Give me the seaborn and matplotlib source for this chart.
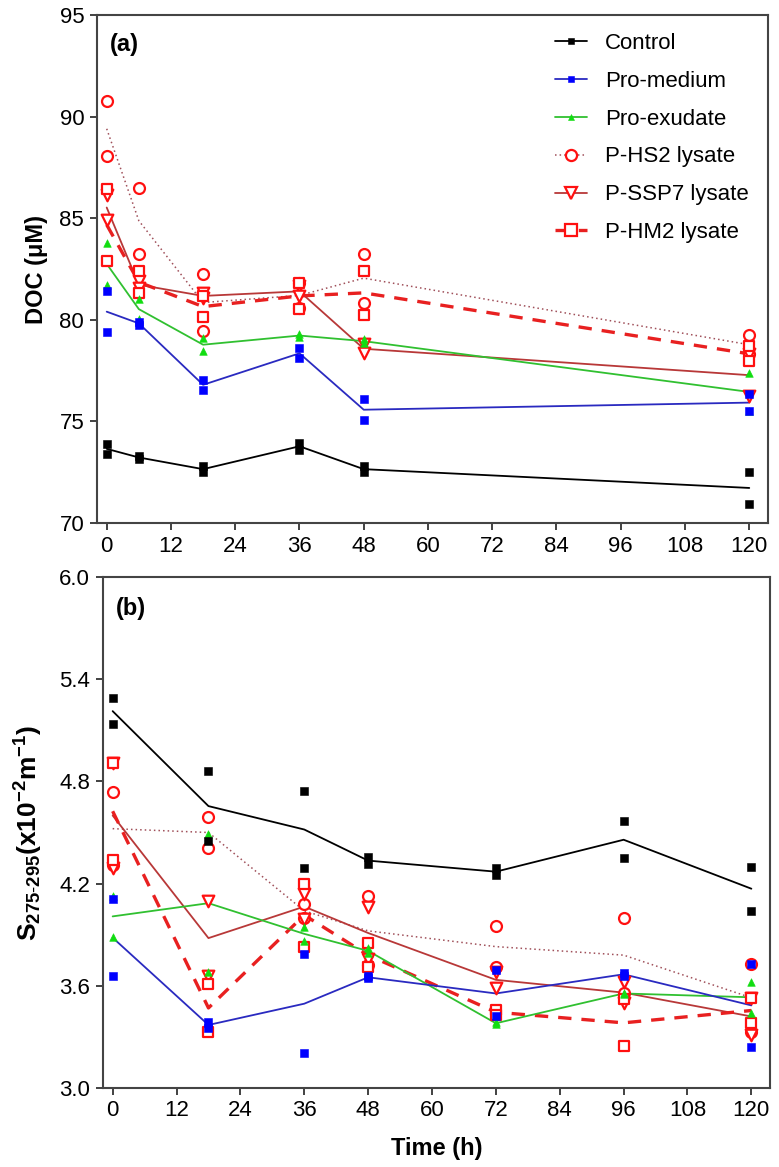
import pandas as pd
import matplotlib
matplotlib.use("Agg")
import matplotlib.pyplot as plt
from matplotlib.lines import Line2D
from matplotlib.ticker import FormatStrFormatter
import seaborn as sns

# Panel (a): DOC, two replicates per treatment
doc_time = [0, 6, 18, 36, 48, 120]
doc_control_r1 = [73.9, 73.3, 72.8, 73.95, 72.8, 72.5]
doc_control_r2 = [73.4, 73.15, 72.5, 73.6, 72.5, 70.95]
doc_promed_r1 = [81.4, 79.9, 77.05, 78.6, 76.1, 76.35]
doc_promed_r2 = [79.4, 79.75, 76.55, 78.1, 75.05, 75.5]
doc_proexu_r1 = [83.8, 81.0, 79.1, 79.3, 79.05, 77.4]
doc_proexu_r2 = [81.7, 80.05, 78.45, 79.15, 78.85, 75.5]
doc_hs2_r1 = [90.75, 86.5, 82.25, 81.8, 83.25, 79.25]
doc_hs2_r2 = [88.05, 83.25, 79.45, 80.6, 80.85, 78.3]
doc_ssp7_r1 = [86.15, 81.9, 81.3, 81.65, 78.8, 78.3]
doc_ssp7_r2 = [84.9, 81.55, 81.05, 81.15, 78.35, 76.25]
doc_hm2_r1 = [86.45, 82.4, 81.15, 81.8, 82.4, 78.7]
doc_hm2_r2 = [82.9, 81.3, 80.15, 80.55, 80.25, 77.95]

# Panel (b): spectral slope S275-295
s_time = [0, 18, 36, 48, 72, 96, 120]
s_control_r1 = [5.29, 4.86, 4.745, 4.355, 4.29, 4.565, 4.30]
s_control_r2 = [5.135, 4.45, 4.29, 4.315, 4.25, 4.35, 4.04]
s_promed_r1 = [4.11, 3.39, 3.785, 3.655, 3.69, 3.675, 3.73]
s_promed_r2 = [3.655, 3.35, 3.205, 3.645, 3.42, 3.66, 3.24]
s_proexu_r1 = [4.13, 4.49, 3.945, 3.82, 3.385, 3.56, 3.625]
s_proexu_r2 = [3.885, 3.68, 3.865, 3.79, 3.375, 3.55, 3.44]
s_hs2_r1 = [4.735, 4.59, 4.08, 4.125, 3.95, 4.0, 3.73]
s_hs2_r2 = [4.31, 4.41, 4.0, 3.72, 3.71, 3.56, 3.33]
s_ssp7_r1 = [4.91, 4.10, 4.14, 4.06, 3.68, 3.62, 3.53]
s_ssp7_r2 = [4.29, 3.66, 3.99, 3.76, 3.59, 3.50, 3.31]
s_hm2_r1 = [4.91, 3.61, 4.20, 3.85, 3.46, 3.52, 3.53]
s_hm2_r2 = [4.34, 3.33, 3.83, 3.71, 3.43, 3.245, 3.38]

treatments = ["Control", "Pro-medium", "Pro-exudate",
              "P-HS2 lysate", "P-SSP7 lysate", "P-HM2 lysate"]
time_ticks = [0, 12, 24, 36, 48, 60, 72, 84, 96, 108, 120]

# line color, line style, line width, marker, face, edge, marker size (scatter s)
styles = {
    "Control": ("black", "-", 1.3, "s", "black", "black", 30),
    "Pro-medium": ("#2a2ac0", "-", 1.3, "s", "#0000ff", "#0000ff", 26),
    "Pro-exudate": ("#30c030", "-", 1.3, "^", "#11dd11", "#11dd11", 30),
    "P-HS2 lysate": ("#a0505a", (0, (1, 2)), 1.1, "o", "white", "#ff1010", 62),
    "P-SSP7 lysate": ("#b83838", "-", 1.3, "v", "white", "#ff1010", 70),
    "P-HM2 lysate": ("#e82020", (0, (4, 3)), 2.4, "s", "white", "#ff1010", 62),
}
draw_order = ["P-HS2 lysate", "P-SSP7 lysate", "P-HM2 lysate",
              "Pro-exudate", "Pro-medium", "Control"]


def long_df(time, reps):
    rows = []
    for name, (r1, r2) in reps.items():
        for t, a, b in zip(time, r1, r2):
            rows.append((name, t, a))
            rows.append((name, t, b))
    return pd.DataFrame(rows, columns=["treatment", "time", "value"])


doc_df = long_df(doc_time, {
    "Control": (doc_control_r1, doc_control_r2),
    "Pro-medium": (doc_promed_r1, doc_promed_r2),
    "Pro-exudate": (doc_proexu_r1, doc_proexu_r2),
    "P-HS2 lysate": (doc_hs2_r1, doc_hs2_r2),
    "P-SSP7 lysate": (doc_ssp7_r1, doc_ssp7_r2),
    "P-HM2 lysate": (doc_hm2_r1, doc_hm2_r2),
})
s_df = long_df(s_time, {
    "Control": (s_control_r1, s_control_r2),
    "Pro-medium": (s_promed_r1, s_promed_r2),
    "Pro-exudate": (s_proexu_r1, s_proexu_r2),
    "P-HS2 lysate": (s_hs2_r1, s_hs2_r2),
    "P-SSP7 lysate": (s_ssp7_r1, s_ssp7_r2),
    "P-HM2 lysate": (s_hm2_r1, s_hm2_r2),
})

sns.set_theme(style="ticks")
plt.rcParams["font.family"] = ["Liberation Sans", "DejaVu Sans"]
plt.rcParams["mathtext.fontset"] = "custom"
plt.rcParams["mathtext.rm"] = "Liberation Sans"
plt.rcParams["mathtext.bf"] = "Liberation Sans:bold"
plt.rcParams["mathtext.it"] = "Liberation Sans:italic"
plt.rcParams["text.color"] = "black"
plt.rcParams["axes.labelcolor"] = "black"
plt.rcParams["xtick.labelcolor"] = "black"
plt.rcParams["ytick.labelcolor"] = "black"


def draw_panel(ax, df):
    for i, name in enumerate(draw_order):
        lc, ls, lw, m, face, edge, size = styles[name]
        sub = df[df["treatment"] == name]
        sns.lineplot(data=sub, x="time", y="value", estimator="mean", errorbar=None,
                     color=lc, linestyle=ls, linewidth=lw, ax=ax, legend=False, zorder=2)
        open_marker = face == "white"
        sns.scatterplot(data=sub, x="time", y="value", marker=m, s=size,
                        color=face, edgecolor=edge, linewidth=1.6 if open_marker else 0.4,
                        ax=ax, legend=False, zorder=3 + i)
    ax.set_xlim(-1.87, 123.5)
    ax.set_xticks(time_ticks)
    ax.set_xlabel("")
    ax.tick_params(direction="out", length=5, width=1.3, labelsize=16, color="#333333",
                   labelcolor="black", pad=4)
    for sp in ax.spines.values():
        sp.set_linewidth(1.5)
        sp.set_color("#444444")


W, H = 779, 1167
fig = plt.figure(figsize=(W / 100, H / 100), dpi=100)
ax1 = fig.add_axes([96.7 / W, 1 - 523 / H, (768 - 96.7) / W, (523 - 15) / H])
ax2 = fig.add_axes([102.7 / W, 1 - 1088 / H, (770 - 102.7) / W, (1088 - 577) / H])

# (a) DOC
draw_panel(ax1, doc_df)
ax1.set_ylim(70, 95)
ax1.set_yticks([70, 75, 80, 85, 90, 95])
ax1.set_ylabel("DOC (\u03bcM)", fontsize=17, fontweight="bold")
ax1.yaxis.set_label_coords(-0.073, 0.5)
ax1.text(0.02, 0.941, "(a)", transform=ax1.transAxes, fontsize=17,
         fontweight="bold", va="center", ha="left")

handles = []
for name in treatments:
    lc, ls, lw, m, face, edge, size = styles[name]
    open_marker = face == "white"
    handles.append(Line2D([0], [0], color=lc, linestyle=ls, linewidth=lw, marker=m,
                          markersize=8 if open_marker else 5,
                          markerfacecolor=face, markeredgecolor=edge,
                          markeredgewidth=1.6 if open_marker else 0.4))
ax1.legend(handles, treatments, loc="upper left", bbox_to_anchor=(0.683, 0.965),
           frameon=False, fontsize=16, handlelength=1.45, handletextpad=0.8,
           labelspacing=0.76, borderpad=0, borderaxespad=0)

# (b) S275-295
draw_panel(ax2, s_df)
ax2.set_ylim(3.0, 6.0)
ax2.set_yticks([3.0, 3.6, 4.2, 4.8, 5.4, 6.0])
ax2.yaxis.set_major_formatter(FormatStrFormatter("%.1f"))
ax2.set_ylabel(r"$\mathbf{S_{275\text{-}295}(x10^{-2}m^{-1})}$", fontsize=19)
ax2.yaxis.set_label_coords(-0.087, 0.5)
ax2.set_xlabel("Time (h)", fontsize=17, fontweight="bold")
ax2.xaxis.set_label_coords(0.5, -0.095)
ax2.text(0.02, 0.939, "(b)", transform=ax2.transAxes, fontsize=17,
         fontweight="bold", va="center", ha="left")

fig.savefig("out.png", dpi=100)
